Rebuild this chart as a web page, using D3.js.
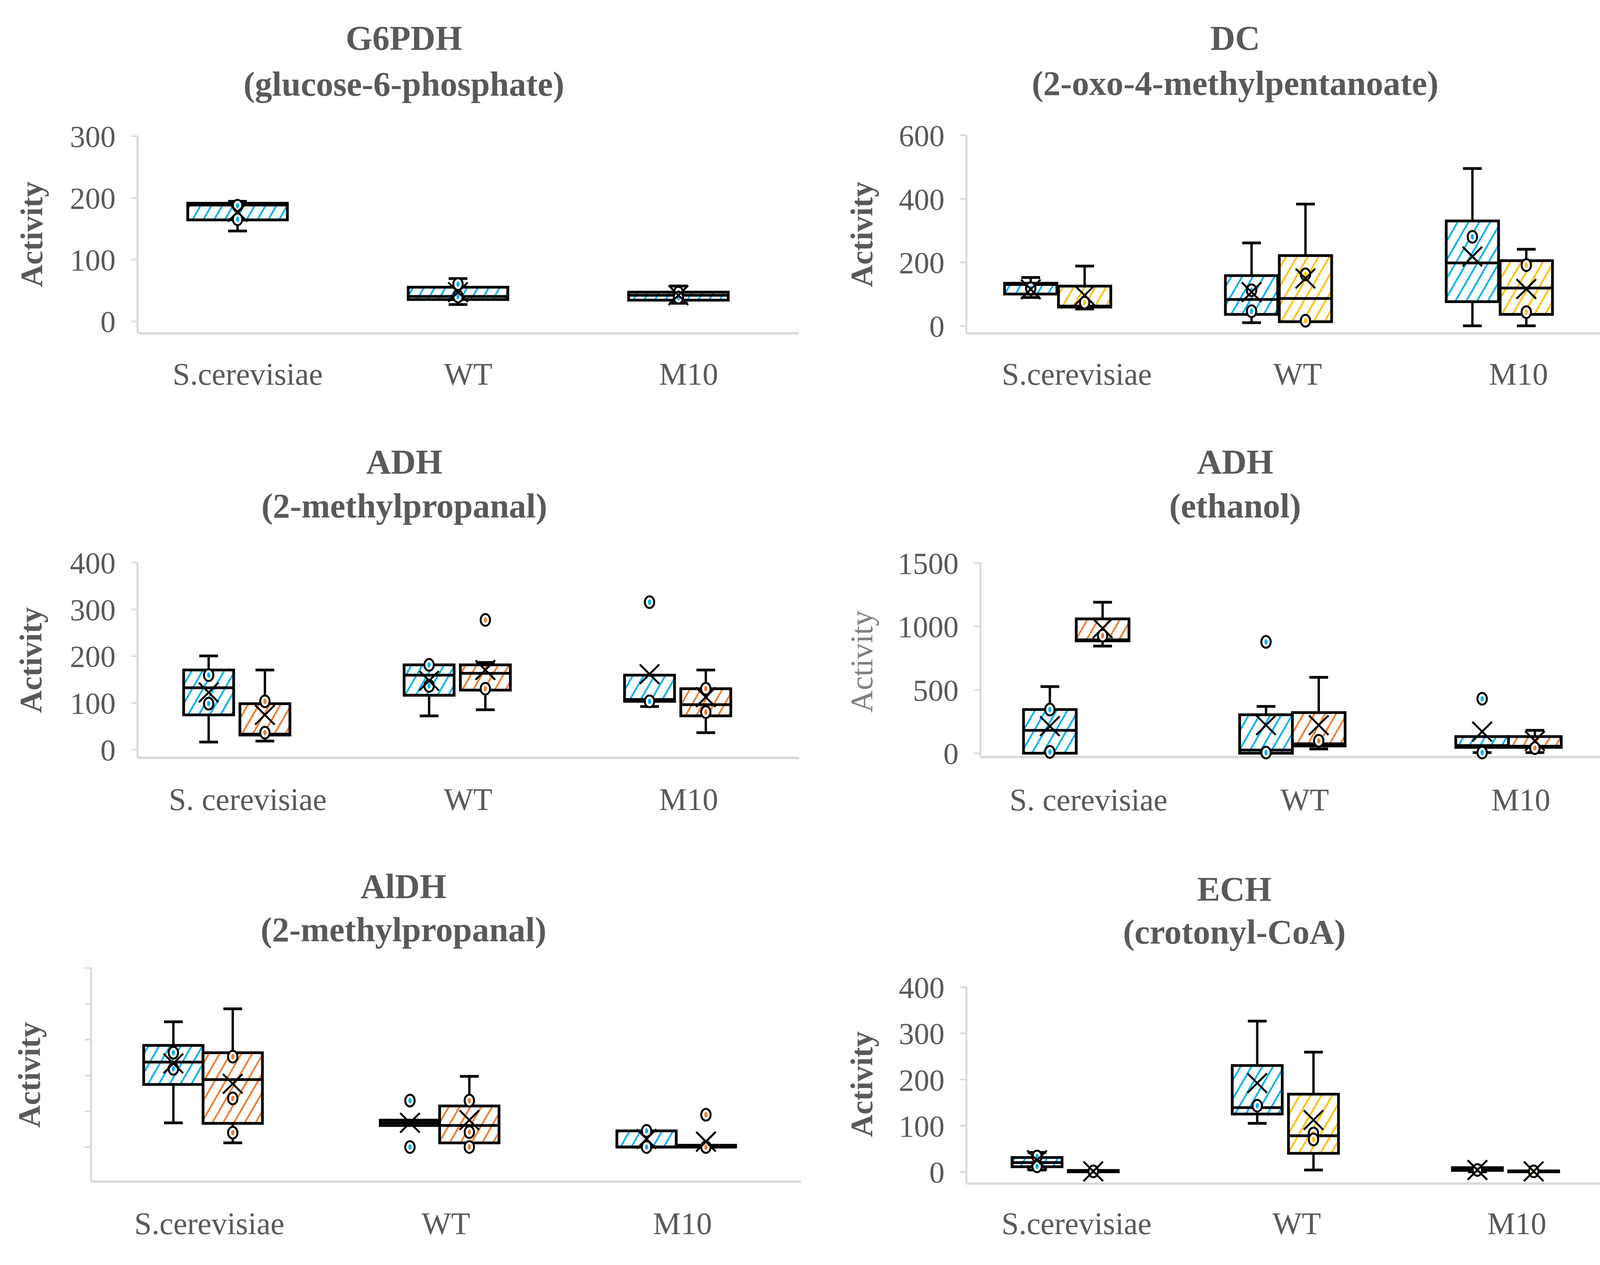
<!DOCTYPE html>
<html><head><meta charset="utf-8">
<script src="https://cdn.jsdelivr.net/npm/d3@7"></script>
<style>body{margin:0;background:#fff}svg{display:block}</style>
</head><body><svg id="c" width="4198" height="3239"></svg>
<script>
// ---------- DATA ----------
const categories = ["S.cerevisiae", "WT", "M10"];
const categoriesSp = ["S. cerevisiae", "WT", "M10"];
// each box: [min, q1, median, q3, max, mean] per category
const g6pdhBlue = [[146,164,188,191,194,177],[27,35,40,55,69,47],[29,34,42,47,57,42]];
const g6pdhBluePts = [[187,165],[60,40],[46,38]];

const dcBlue = [[89,100,130,134,152,115],[10,36,83,158,261,106],[0,76,198,330,495,218]];
const dcBluePts = [[118],[112,46],[280]];
const dcYellow = [[53,59,62,125,188,96],[13,13,86,221,383,149],[0,36,119,205,241,116]];
const dcYellowPts = [[73],[162,16],[191,43]];

const adhPropBlue = [[16,74,132,170,200,122],[72,116,159,181,181,147],[92,103,107,159,159,161]];
const adhPropBluePts = [[159,98],[181,136],[315,103]];
const adhPropOrange = [[18,31,33,98,170,74],[85,127,163,181,186,170],[36,72,96,130,170,112]];
const adhPropOrangePts = [[103,36],[277,130],[130,80]];

const adhEthBlue = [[0,0,180,344,525,213],[0,0,25,303,369,221],[5,46,60,131,131,170]];
const adhEthBluePts = [[344,10],[877,5],[429,5]];
const adhEthOrange = [[844,885,893,1058,1189,984],[33,57,74,320,598,221],[5,46,55,131,180,97]];
const adhEthOrangePts = [[926],[98],[40]];

const aldhBlue = [[13.5,34.9,47.4,56.7,69.9,46.6],[12,12,13.5,15,15,13.5],[0,0,0,9,9,4.5]];
const aldhBluePts = [[52.6,43.6],[25.9,0],[9,0]];
const aldhOrange = [[2.3,13.2,37.6,52.6,77.1,35.3],[2.3,2.3,12,22.9,39.4,15],[0,0,0,1,1,3]];
const aldhOrangePts = [[50.4,27.1,8],[25.9,8.3,0],[18,0]];

const echBlue = [[4,11,20,31,42,25],[105,125,139,230,326,192],[0,3,6,9,9,4]];
const echBluePts = [[33,12],[143],[4]];
const echYellow = [[0,0,1,3,3,1],[4,40,78,168,259,112],[0,0,1,2,2,1]];
const echYellowPts = [[1],[83,70],[1]];

const ticksG6pdh = [0,100,200,300];
const ticksDc = [0,200,400,600];
const ticksAdhProp = [0,100,200,300,400];
const ticksAdhEth = [0,500,1000,1500];
const ticksAldh = [0,20,40,60,80,100];
const ticksEch = [0,100,200,300,400];

// ---------- STYLE ----------
const colors = {blue:"#00B0F0", orange:"#ED7D31", yellow:"#FFC000"};
const textGray = "#595959";
const axisGray = "#D9D9D9";
const serif = "'Liberation Serif', 'Times New Roman', serif";

const panels = [
 {title:"G6PDH", sub:"(glucose-6-phosphate)", cats:categories,
  series:[{c:"blue", s:g6pdhBlue, p:g6pdhBluePts}],
  xr:[352,2045], yd:[-19.4,300], yr:[853,348], ticks:ticksG6pdh, labels:true,
  offs:[-26], bw:255, tx:1034, ty:127, sy:245, ax:81, ay:600, cy:985, abold:true},
 {title:"DC", sub:"(2-oxo-4-methylpentanoate)", cats:categories,
  series:[{c:"blue", s:dcBlue, p:dcBluePts},{c:"yellow", s:dcYellow, p:dcYellowPts}],
  xr:[2474,4170], yd:[-23,600], yr:[853,346], ticks:ticksDc, labels:true,
  offs:[-118,20], bw:134, tx:3162, ty:127, sy:243, ax:2206, ay:600, cy:985, abold:true},
 {title:"ADH", sub:"(2-methylpropanal)", cats:categoriesSp,
  series:[{c:"blue", s:adhPropBlue, p:adhPropBluePts},{c:"orange", s:adhPropOrange, p:adhPropOrangePts}],
  xr:[352,2045], yd:[-17.4,400], yr:[1940,1440], ticks:ticksAdhProp, labels:true,
  offs:[-100,44], bw:128, tx:1035, ty:1212, sy:1325, ax:79, ay:1690, cy:2074, abold:true},
 {title:"ADH", sub:"(ethanol)", cats:categoriesSp,
  series:[{c:"blue", s:adhEthBlue, p:adhEthBluePts},{c:"orange", s:adhEthOrange, p:adhEthOrangePts}],
  xr:[2510,4170], yd:[-29,1500], yr:[1938,1441], ticks:ticksAdhEth, labels:true,
  offs:[-99,36], bw:135, tx:3162, ty:1212, sy:1325, ax:2206, ay:1694, cy:2075, abold:false},
 {title:"AlDH", sub:"(2-methylpropanal)", cats:categories,
  series:[{c:"blue", s:aldhBlue, p:aldhBluePts},{c:"orange", s:aldhOrange, p:aldhOrangePts}],
  xr:[233,2050], yd:[-19.2,100], yr:[3025,2478], ticks:ticksAldh, labels:false,
  offs:[-92,60], bw:152, tx:1033, ty:2299, sy:2410, ax:75, ay:2752, cy:3160, abold:true},
 {title:"ECH", sub:"(crotonyl-CoA)", cats:categories,
  series:[{c:"blue", s:echBlue, p:echBluePts},{c:"yellow", s:echYellow, p:echYellowPts}],
  xr:[2474,4165], yd:[-25,400], yr:[3030,2527], ticks:ticksEch, labels:true,
  offs:[-101,43], bw:128, tx:3160, ty:2306, sy:2416, ax:2206, ay:2776, cy:3160, abold:true}
];

// ---------- DRAW ----------
const svg = d3.select("#c");
svg.append("rect").attr("width",4198).attr("height",3239).attr("fill","#fff");
const defs = svg.append("defs");
Object.entries(colors).forEach(([k,c]) => {
  const p = defs.append("pattern").attr("id","hatch-"+k)
    .attr("patternUnits","userSpaceOnUse").attr("width",24).attr("height",24)
    .attr("patternTransform","rotate(30)");
  p.append("rect").attr("width",24).attr("height",24).attr("fill","#fff");
  p.append("line").attr("x1",12).attr("y1",0).attr("x2",12).attr("y2",24)
    .attr("stroke",c).attr("stroke-width",4.5);
});

panels.forEach(P => {
  const g = svg.append("g");
  const x0 = d3.scaleBand().domain(P.cats).range(P.xr).padding(0);
  const y = d3.scaleLinear().domain(P.yd).range(P.yr);
  const names = P.series.map(s => s.c);
  const d = P.offs.length > 1 ? P.offs[1]-P.offs[0] : P.bw;
  const x1 = d3.scaleBand().domain(names).range([P.offs[0]-d/2, P.offs[P.offs.length-1]+d/2]).padding(0);

  g.append("text").attr("x",P.tx).attr("y",P.ty).attr("text-anchor","middle")
    .attr("font-family",serif).attr("font-weight","bold").attr("font-size",88)
    .attr("fill",textGray).text(P.title);
  g.append("text").attr("x",P.tx).attr("y",P.sy).attr("text-anchor","middle")
    .attr("font-family",serif).attr("font-weight","bold").attr("font-size",88)
    .attr("fill",textGray).text(P.sub);

  g.append("text").attr("transform",`translate(${P.ax},${P.ay}) rotate(-90)`)
    .attr("text-anchor","middle").attr("dominant-baseline","central")
    .attr("font-family",serif).attr("font-weight",P.abold?"bold":"normal").attr("font-size",80)
    .attr("fill",P.abold?textGray:"#7f7f7f").text("Activity");

  const yAxis = d3.axisLeft(y).tickValues(P.ticks).tickSize(16).tickPadding(40)
    .tickFormat(P.labels ? d3.format("d") : () => "");
  const ya = g.append("g").attr("transform",`translate(${P.xr[0]},0)`).call(yAxis);
  ya.select(".domain").attr("d",`M0,${P.yr[0]}V${y(P.ticks[P.ticks.length-1])}`)
    .attr("stroke",axisGray).attr("stroke-width",5);
  ya.selectAll(".tick line").attr("stroke",axisGray).attr("stroke-width",4);
  ya.selectAll(".tick text").attr("font-family",serif).attr("font-size",78)
    .attr("fill",textGray).attr("dy","0.35em");

  const xAxis = d3.axisBottom(x0).tickSize(0).tickPadding(0);
  const xa = g.append("g").attr("transform",`translate(0,${P.yr[0]})`).call(xAxis);
  xa.select(".domain").attr("stroke",axisGray).attr("stroke-width",6);
  xa.selectAll(".tick text").attr("font-family",serif).attr("font-size",80)
    .attr("fill",textGray).attr("dy",0).attr("y",P.cy - P.yr[0]);

  P.series.forEach(S => {
    S.s.forEach((st, i) => {
      const [mn,q1,md,q3,mx,mean] = st;
      const cx = x0(P.cats[i]) + x0.bandwidth()/2 + x1(S.c) + x1.bandwidth()/2;
      const hw = P.bw/2;
      const bg = g.append("g");
      const cap = 24;
      if (mx > q3) {
        bg.append("line").attr("x1",cx).attr("x2",cx).attr("y1",y(q3)).attr("y2",y(mx)).attr("stroke","#000").attr("stroke-width",6);
        bg.append("line").attr("x1",cx-cap).attr("x2",cx+cap).attr("y1",y(mx)).attr("y2",y(mx)).attr("stroke","#000").attr("stroke-width",7);
      }
      if (mn < q1) {
        bg.append("line").attr("x1",cx).attr("x2",cx).attr("y1",y(q1)).attr("y2",y(mn)).attr("stroke","#000").attr("stroke-width",6);
        bg.append("line").attr("x1",cx-cap).attr("x2",cx+cap).attr("y1",y(mn)).attr("y2",y(mn)).attr("stroke","#000").attr("stroke-width",7);
      }
      bg.append("rect").attr("x",cx-hw).attr("width",P.bw)
        .attr("y",y(q3)).attr("height",Math.max(0,y(q1)-y(q3)))
        .attr("fill",`url(#hatch-${S.c})`).attr("stroke","#000").attr("stroke-width",7);
      bg.append("line").attr("x1",cx-hw).attr("x2",cx+hw).attr("y1",y(md)).attr("y2",y(md))
        .attr("stroke","#000").attr("stroke-width",7);
      S.p[i].forEach(v => {
        bg.append("ellipse").attr("cx",cx).attr("cy",y(v)).attr("rx",12).attr("ry",15)
          .attr("fill","#fff").attr("stroke","#000").attr("stroke-width",5);
        bg.append("ellipse").attr("cx",cx).attr("cy",y(v)).attr("rx",4).attr("ry",7)
          .attr("fill",colors[S.c]);
      });
      const mx0 = 25, my0 = 25, ym = y(mean);
      bg.append("path").attr("d",`M${cx-mx0},${ym-my0}L${cx+mx0},${ym+my0}M${cx-mx0},${ym+my0}L${cx+mx0},${ym-my0}`)
        .attr("stroke","#000").attr("stroke-width",5).attr("fill","none");
    });
  });
});
</script></body></html>
